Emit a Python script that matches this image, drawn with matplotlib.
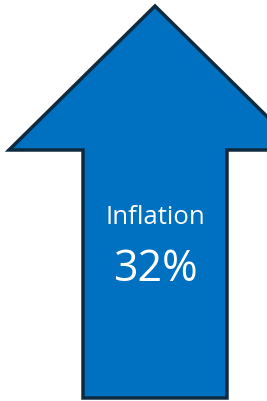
import matplotlib
matplotlib.use("Agg")
import matplotlib.pyplot as plt
from matplotlib.patches import Polygon

labels = ["Inflation"]
values = [32]

W, H = 267, 401
fig = plt.figure(figsize=(W / 100, H / 100), dpi=100)
ax = fig.add_axes([0, 0, 1, 1])
ax.set_xlim(0, W)
ax.set_ylim(H, 0)
ax.axis("off")

# arrow shape, pixel coordinates
cx, tip_y, wing_y, bottom = 155, 6, 150, 398
half_head, half_shaft = 146, 72
pts = [
    (cx, tip_y),
    (cx + half_head, wing_y),
    (cx + half_shaft, wing_y),
    (cx + half_shaft, bottom),
    (cx - half_shaft, bottom),
    (cx - half_shaft, wing_y),
    (cx - half_head, wing_y),
]
ax.add_patch(Polygon(pts, closed=True, facecolor="#0070C0",
                     edgecolor="#0E2A3E", linewidth=2.5, joinstyle="miter",
                     clip_on=True))

ax.text(cx, 217, labels[0], ha="center", va="center", color="white",
        fontsize=18.5, family="Open Sans")
ax.text(cx, 270, f"{values[0]}%", ha="center", va="center", color="white",
        fontsize=31, family="Open Sans")

fig.savefig("out.png", dpi=100)
